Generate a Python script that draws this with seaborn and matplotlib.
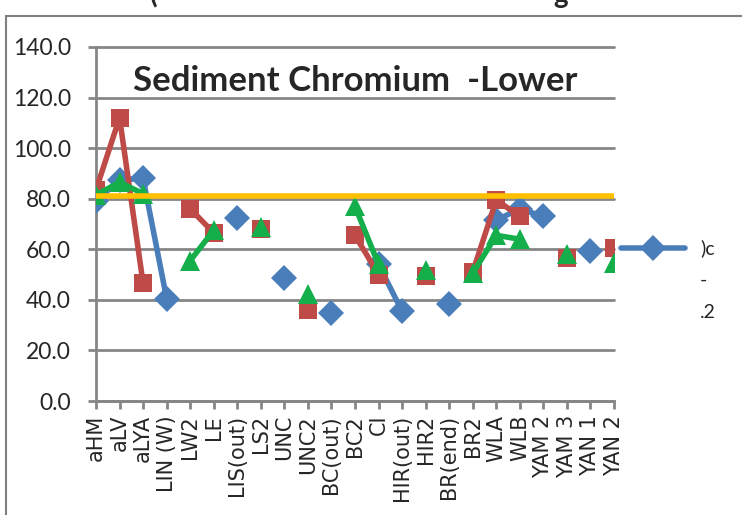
import numpy as np
import pandas as pd
import matplotlib.pyplot as plt
import seaborn as sns
from matplotlib.lines import Line2D

# === Data ===
sites = ["aHM", "aLV", "aLYA", "LIN (W)", "LW2", "LE", "LIS(out)", "LS2", "UNC", "UNC2",
         "BC(out)", "BC2", "CI", "HIR(out)", "HIR2", "BR(end)", "BR2", "WLA", "WLB",
         "YAM 2", "YAM 3", "YAN 1", "YAN 2"]
nan = np.nan
blue_vals = [79.0, 87.5, 88.0, 40.5, nan, nan, 72.5, nan, 48.5, nan, 35.0, nan, 54.0, 35.5,
             nan, 38.5, nan, 71.5, 76.0, 73.0, nan, 59.5, nan]
red_vals = [83.5, 112.0, 46.5, nan, 76.0, 66.5, nan, 68.0, nan, 36.0, nan, 65.5, 50.0, nan,
            49.5, nan, 51.0, 79.5, 73.0, nan, 56.5, nan, 60.5]
green_vals = [81.5, 86.5, 82.0, nan, 55.5, 67.5, nan, 69.0, nan, 42.5, nan, 77.0, 54.0, nan,
              52.0, nan, 50.5, 65.5, 64.0, nan, 58.0, nan, 54.5]
guideline = 81.0
legend_labels = [")c", "-", ".2"]
y_ticks = [0, 20, 40, 60, 80, 100, 120, 140]

BLUE = "#4A7EBB"
RED = "#BE4B48"
GREEN = "#14AE4A"
GOLD = "#FFC000"
GRID = "#868686"


def to_long(values):
    df = pd.DataFrame({"pos": np.arange(len(values)), "value": values})
    # contiguous runs -> separate units so gaps stay open like in Excel
    df["seg"] = df["value"].isna().cumsum()
    return df.dropna()


sns.set_style("white")
plt.rcParams["font.family"] = ["Lato", "DejaVu Sans"]

fig = plt.figure(figsize=(7.42, 5.15), dpi=100)
ax = fig.add_axes([96 / 742, 1 - 401 / 515, (614 - 96) / 742, (401 - 47) / 515])

series = [
    (blue_vals, BLUE, "D", 13.5),
    (red_vals, RED, "s", 12.5),
    (green_vals, GREEN, "^", 14),
]
for vals, col, mk, ms in series:
    sns.lineplot(data=to_long(vals), x="pos", y="value", units="seg", estimator=None,
                 color=col, linewidth=4, marker=mk, markersize=ms,
                 markeredgewidth=0, ax=ax, legend=False, zorder=3)

ax.axhline(guideline, color=GOLD, linewidth=4, zorder=4)

ax.set_xlim(0, len(sites) - 1)
ax.set_ylim(0, 140)
ax.set_yticks(y_ticks)
ax.set_yticklabels([f"{v:.1f}" for v in y_ticks], fontsize=16.5)
ax.set_xticks(np.arange(len(sites)))
ax.set_xticklabels(sites, rotation=90, fontsize=15, family="DejaVu Sans")
ax.set_xlabel("")
ax.set_ylabel("")

ax.grid(axis="y", color=GRID, linewidth=2)
ax.set_axisbelow(True)
for side in ["top", "right"]:
    ax.spines[side].set_visible(False)
for side in ["left", "bottom"]:
    ax.spines[side].set_color(GRID)
    ax.spines[side].set_linewidth(2)
ax.tick_params(axis="y", length=6, width=2, color=GRID, pad=12, direction="out", left=True)
ax.tick_params(axis="x", length=6, width=2, color=GRID, pad=4, direction="out", bottom=True)
for gl in ax.get_ygridlines():
    gl.set_clip_on(False)

ax.text(0.5, 0.905, "Sediment Chromium  -Lower", transform=ax.transAxes, ha="center",
        va="center", fontsize=25, fontweight="bold")

# partial legend at the right edge
handles = [Line2D([], [], color=BLUE, marker="D", linewidth=4, markersize=13.5, markeredgewidth=0),
           Line2D([], [], linewidth=0),
           Line2D([], [], linewidth=0)]
fig.legend(handles, legend_labels, loc="upper left", bbox_to_anchor=(603 / 742, 1 - 222 / 515),
           frameon=False, fontsize=14, handlelength=3.3, handletextpad=0.8, labelspacing=0.75)

# outer frame and cut-off title of the chart above
fig.add_artist(Line2D([6 / 742, 6 / 742], [0, 1 - 16 / 515], color="#7f7f7f", linewidth=1.5))
fig.add_artist(Line2D([6 / 742, 1], [1 - 16 / 515, 1 - 16 / 515], color="#7f7f7f", linewidth=1.5))
fig.text(150 / 742, 1 - 3 / 515, "(", fontsize=20, fontweight="bold", va="baseline")
fig.text(553 / 742, 1 - 3 / 515, "g", fontsize=20, fontweight="bold", va="baseline")

fig.savefig("out.png", dpi=100)
